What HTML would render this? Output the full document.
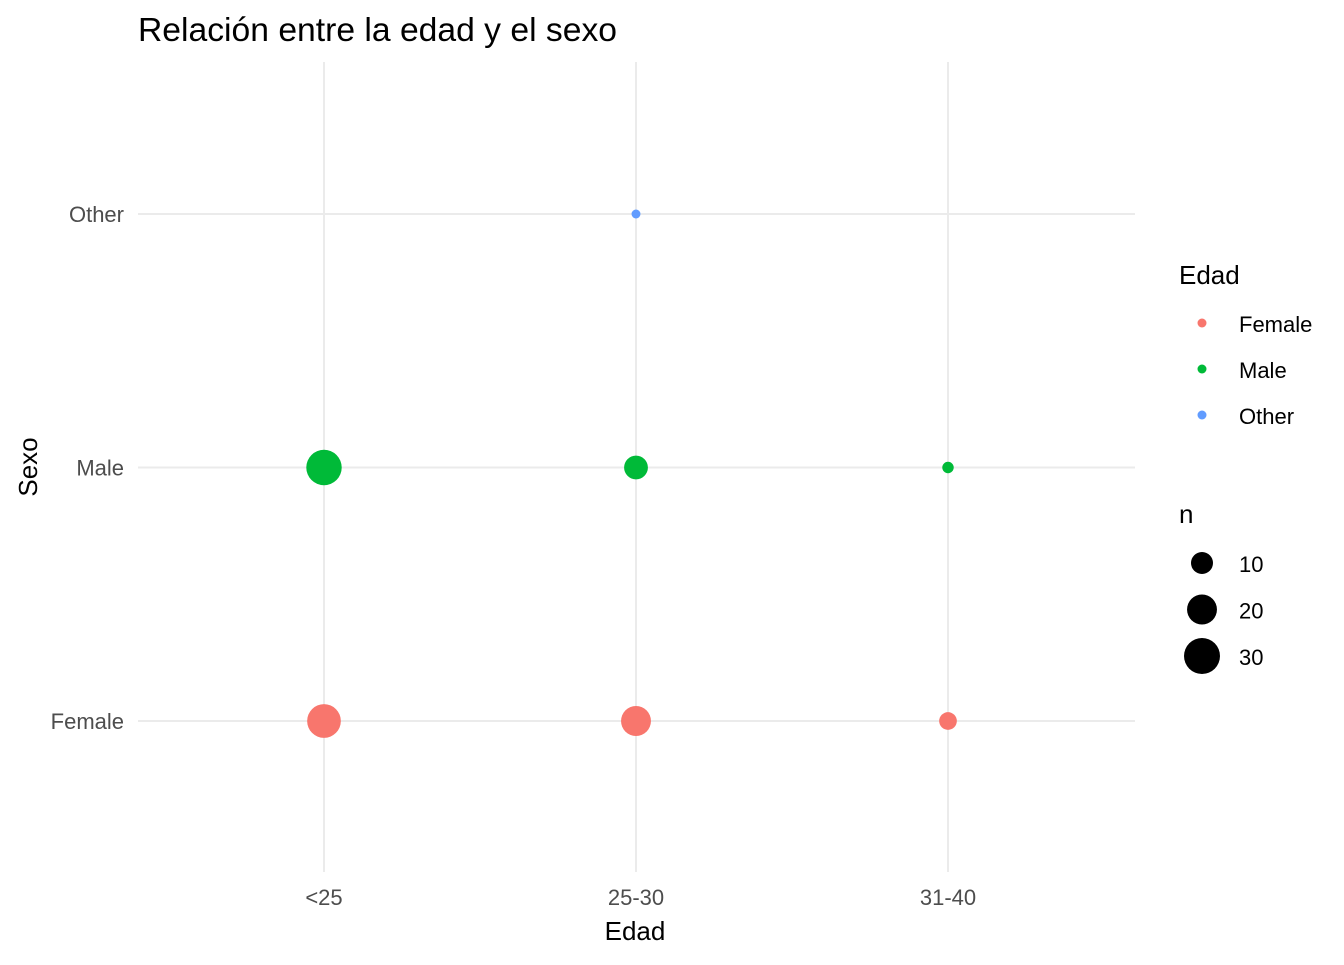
<!DOCTYPE html>
<html><head><meta charset="utf-8"><style>
body{margin:0;background:#fff;font-family:"Liberation Sans",Arial,sans-serif}
</style></head><body>
<svg width="1344" height="960" xmlns="http://www.w3.org/2000/svg" font-family="Liberation Sans, Arial, sans-serif">
<text x="138" y="41" font-size="33" textLength="479" lengthAdjust="spacingAndGlyphs" fill="#000">Relación entre la edad y el sexo</text>
<g id="grid"></g>
<g id="pts"></g>
<g id="axes"></g>
<text x="635" y="940" font-size="26" text-anchor="middle">Edad</text>
<text transform="translate(37,467) rotate(-90)" font-size="26" text-anchor="middle">Sexo</text>
<g>
<text x="1179" y="284" font-size="26">Edad</text>
<g><circle cx="1202" cy="323" r="4.5" fill="#F8766D"/><text x="1239" y="332" font-size="22">Female</text></g>
<g><circle cx="1202" cy="369" r="4.5" fill="#00BA38"/><text x="1239" y="378" font-size="22">Male</text></g>
<g><circle cx="1202" cy="415" r="4.5" fill="#619CFF"/><text x="1239" y="424" font-size="22">Other</text></g>
</g>
<g>
<text x="1179" y="523" font-size="26">n</text>
<g id="sizeleg"></g>
</g>
</svg>
<script>
const xCats=["<25","25-30","31-40"];
const yCats=["Female","Male","Other"];
const ptX=["<25","25-30","31-40","<25","25-30","31-40","25-30"];
const ptY=["Female","Female","Female","Male","Male","Male","Other"];
const ptN=[26,20,6,29,12,2,1];
const sizeBreaks=[10,20,30];
const colors={Female:"#F8766D",Male:"#00BA38",Other:"#619CFF"};
const ns="http://www.w3.org/2000/svg";
const X=c=>324+xCats.indexOf(c)*312;
const Y=c=>721-yCats.indexOf(c)*253.5;
const R=n=>1.45+3.02*Math.sqrt(n);
function mk(t,a,p){const e=document.createElementNS(ns,t);for(const k in a)e.setAttribute(k,a[k]);p.appendChild(e);return e;}
const grid=document.getElementById('grid'),axes=document.getElementById('axes'),pts=document.getElementById('pts');
xCats.forEach(c=>{
 const l=mk('line',{x1:X(c),x2:X(c),y1:62,y2:872,stroke:'#EBEBEB','stroke-width':2},grid);
 
 
 const t=mk('text',{x:X(c),y:905,'font-size':22,'text-anchor':'middle',fill:'#4D4D4D'},axes);t.textContent=c;
 
 
});
yCats.forEach(c=>{
 const l=mk('line',{x1:138,x2:1135,y1:Y(c),y2:Y(c),stroke:'#EBEBEB','stroke-width':2},grid);
 
 
 const t=mk('text',{x:124,y:Y(c)+8,'font-size':22,'text-anchor':'end',fill:'#4D4D4D'},axes);t.textContent=c;
 
 
});
ptN.forEach((n,i)=>{
 const c=mk('circle',{cx:X(ptX[i]),cy:Y(ptY[i]),r:R(n),fill:colors[ptY[i]]},pts);
 
 
});
const sl=document.getElementById('sizeleg');
sizeBreaks.forEach((n,i)=>{
 const y=563+i*46.5;
 const c=mk('circle',{cx:1202,cy:y,r:R(n),fill:'#000'},sl);
 
 
 const t=mk('text',{x:1239,y:y+9,'font-size':22},sl);t.textContent=n;
 
 
});
</script>
</body></html>
